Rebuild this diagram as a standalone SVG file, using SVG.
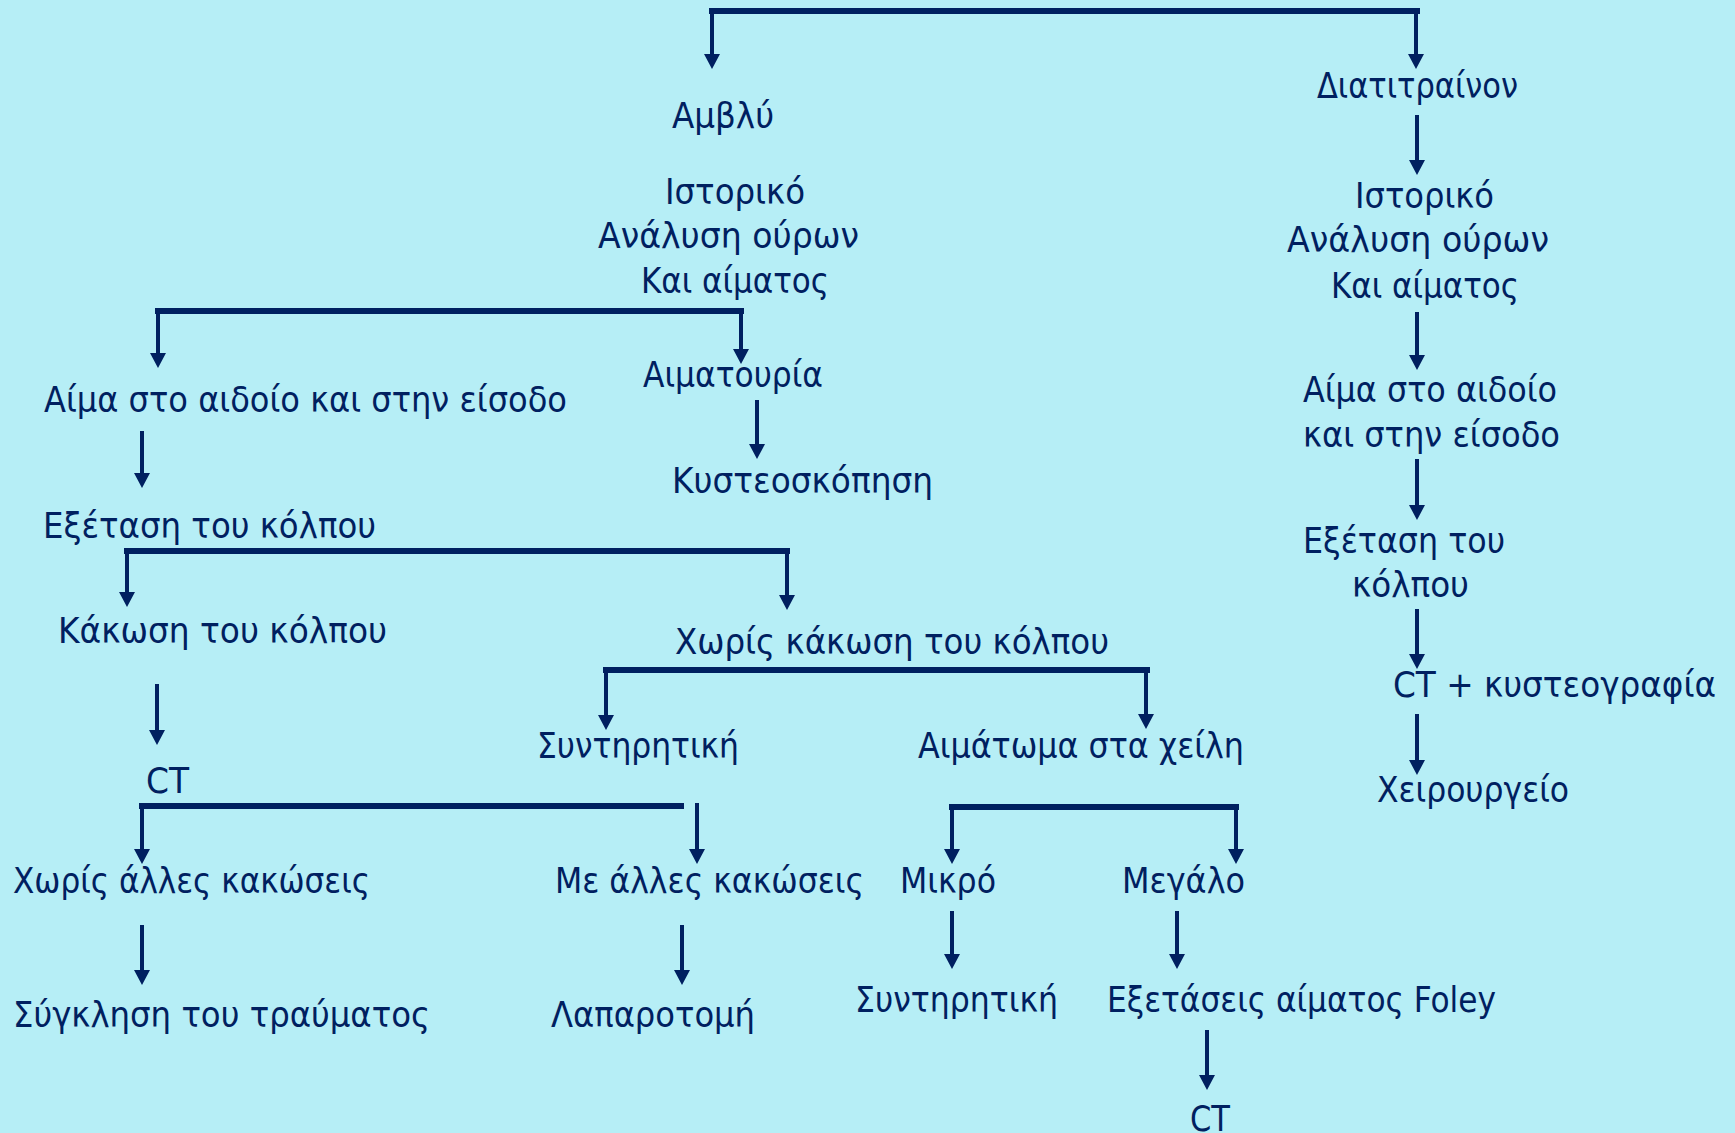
<svg xmlns="http://www.w3.org/2000/svg" width="1735" height="1133" viewBox="0 0 1735 1133">
<defs>
<style>
text{font-family:"DejaVu Sans Condensed","DejaVu Sans","Liberation Sans",sans-serif;font-size:35px;fill:#002060}
.bar{stroke:#002060;stroke-width:6;fill:none}
.ln{stroke:#002060;stroke-width:4;fill:none;marker-end:url(#ah)}
</style>
<marker id="ah" markerUnits="userSpaceOnUse" markerWidth="15" markerHeight="16" viewBox="0 0 15 16" refX="3" refY="8" orient="auto">
<path d="M0,0 L15,8 L0,16 z" fill="#002060"/>
</marker>
</defs>
<rect width="1735" height="1133" fill="#B6EEF6"/>
<g id="connectors">
<line class="bar" x1="709" y1="11" x2="1420" y2="11"/>
<line class="ln" x1="712" y1="11" x2="712" y2="57"/>
<line class="ln" x1="1416" y1="11" x2="1416" y2="57"/>
<line class="ln" x1="1417" y1="115" x2="1417" y2="163"/>
<line class="ln" x1="1417" y1="312" x2="1417" y2="358"/>
<line class="ln" x1="1417" y1="459" x2="1417" y2="508"/>
<line class="ln" x1="1417" y1="609" x2="1417" y2="657"/>
<line class="ln" x1="1417" y1="714" x2="1417" y2="763"/>
<line class="bar" x1="155" y1="311" x2="744" y2="311"/>
<line class="ln" x1="158" y1="311" x2="158" y2="356"/>
<line class="ln" x1="741" y1="311" x2="741" y2="352"/>
<line class="ln" x1="757" y1="400" x2="757" y2="447"/>
<line class="ln" x1="142" y1="431" x2="142" y2="476"/>
<line class="bar" x1="124" y1="551" x2="790" y2="551"/>
<line class="ln" x1="127" y1="551" x2="127" y2="595"/>
<line class="ln" x1="787" y1="551" x2="787" y2="598"/>
<line class="ln" x1="157" y1="684" x2="157" y2="733"/>
<line class="bar" x1="139" y1="806" x2="684" y2="806"/>
<line class="ln" x1="142" y1="806" x2="142" y2="852"/>
<line class="ln" x1="697" y1="803" x2="697" y2="852"/>
<line class="ln" x1="142" y1="925" x2="142" y2="973"/>
<line class="ln" x1="682" y1="925" x2="682" y2="973"/>
<line class="bar" x1="603" y1="670" x2="1150" y2="670"/>
<line class="ln" x1="606" y1="670" x2="606" y2="718"/>
<line class="ln" x1="1146" y1="670" x2="1146" y2="717"/>
<line class="bar" x1="949" y1="807" x2="1239" y2="807"/>
<line class="ln" x1="952" y1="807" x2="952" y2="852"/>
<line class="ln" x1="1236" y1="807" x2="1236" y2="852"/>
<line class="ln" x1="952" y1="911" x2="952" y2="957"/>
<line class="ln" x1="1177" y1="911" x2="1177" y2="957"/>
<line class="ln" x1="1207" y1="1030" x2="1207" y2="1078"/>
</g>
<g id="n-amvly"><text x="672" y="128" textLength="102" lengthAdjust="spacingAndGlyphs">Αμβλύ</text></g>
<g id="n-diatitrainon"><text x="1317" y="98" textLength="201" lengthAdjust="spacingAndGlyphs">Διατιτραίνον</text></g>
<g id="n-istoriko-l">
<text x="665" y="204" textLength="140" lengthAdjust="spacingAndGlyphs">Ιστορικό</text>
<text x="598" y="248" textLength="261" lengthAdjust="spacingAndGlyphs">Ανάλυση ούρων</text>
<text x="641" y="293" textLength="188" lengthAdjust="spacingAndGlyphs">Και αίματος</text>
</g>
<g id="n-istoriko-r">
<text x="1355" y="208" textLength="139" lengthAdjust="spacingAndGlyphs">Ιστορικό</text>
<text x="1287" y="252" textLength="262" lengthAdjust="spacingAndGlyphs">Ανάλυση ούρων</text>
<text x="1331" y="298" textLength="188" lengthAdjust="spacingAndGlyphs">Και αίματος</text>
</g>
<g id="n-aima-r">
<text x="1303" y="402" textLength="254" lengthAdjust="spacingAndGlyphs">Αίμα στο αιδοίο</text>
<text x="1303" y="447" textLength="257" lengthAdjust="spacingAndGlyphs">και στην είσοδο</text>
</g>
<g id="n-exetasi-r">
<text x="1303" y="553" textLength="202" lengthAdjust="spacingAndGlyphs">Εξέταση του</text>
<text x="1352" y="597" textLength="117" lengthAdjust="spacingAndGlyphs">κόλπου</text>
</g>
<g id="n-ct-r"><text x="1393" y="697" textLength="323" lengthAdjust="spacingAndGlyphs">CT + κυστεογραφία</text></g>
<g id="n-xeirourgeio"><text x="1377" y="802" textLength="192" lengthAdjust="spacingAndGlyphs">Χειρουργείο</text></g>
<g id="n-aima-l"><text x="44" y="412" textLength="523" lengthAdjust="spacingAndGlyphs">Αίμα στο αιδοίο και στην είσοδο</text></g>
<g id="n-aimatouria"><text x="643" y="387" textLength="180" lengthAdjust="spacingAndGlyphs">Αιματουρία</text></g>
<g id="n-kysteoskopisi"><text x="672" y="493" textLength="261" lengthAdjust="spacingAndGlyphs">Κυστεοσκόπηση</text></g>
<g id="n-exetasi-l"><text x="43" y="538" textLength="333" lengthAdjust="spacingAndGlyphs">Εξέταση του κόλπου</text></g>
<g id="n-kakosi"><text x="58" y="643" textLength="329" lengthAdjust="spacingAndGlyphs">Κάκωση του κόλπου</text></g>
<g id="n-xoris-kakosi"><text x="675" y="654" textLength="434" lengthAdjust="spacingAndGlyphs">Χωρίς κάκωση του κόλπου</text></g>
<g id="n-ct-l"><text x="146" y="793" textLength="43" lengthAdjust="spacingAndGlyphs">CT</text></g>
<g id="n-xoris-alles"><text x="13" y="893" textLength="357" lengthAdjust="spacingAndGlyphs">Χωρίς άλλες κακώσεις</text></g>
<g id="n-me-alles"><text x="555" y="893" textLength="309" lengthAdjust="spacingAndGlyphs">Με άλλες κακώσεις</text></g>
<g id="n-sygklisi"><text x="13" y="1027" textLength="417" lengthAdjust="spacingAndGlyphs">Σύγκληση του τραύματος</text></g>
<g id="n-laparotomi"><text x="551" y="1027" textLength="204" lengthAdjust="spacingAndGlyphs">Λαπαροτομή</text></g>
<g id="n-syntiritiki-1"><text x="537" y="758" textLength="202" lengthAdjust="spacingAndGlyphs">Συντηρητική</text></g>
<g id="n-aimatoma"><text x="918" y="758" textLength="326" lengthAdjust="spacingAndGlyphs">Αιμάτωμα στα χείλη</text></g>
<g id="n-mikro"><text x="900" y="893" textLength="96" lengthAdjust="spacingAndGlyphs">Μικρό</text></g>
<g id="n-megalo"><text x="1122" y="893" textLength="123" lengthAdjust="spacingAndGlyphs">Μεγάλο</text></g>
<g id="n-syntiritiki-2"><text x="855" y="1012" textLength="203" lengthAdjust="spacingAndGlyphs">Συντηρητική</text></g>
<g id="n-exetaseis"><text x="1107" y="1012" textLength="389" lengthAdjust="spacingAndGlyphs">Εξετάσεις αίματος Foley</text></g>
<g id="n-ct-bottom"><text x="1190" y="1131" textLength="40" lengthAdjust="spacingAndGlyphs">CT</text></g>
</svg>
